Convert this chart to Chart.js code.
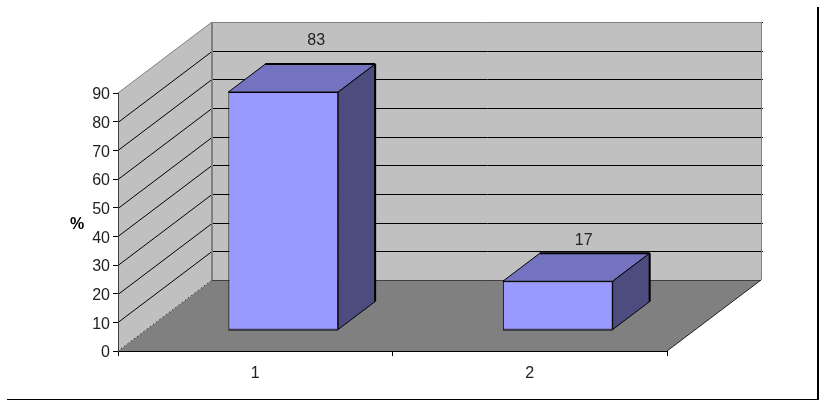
<!DOCTYPE html>
<html>
<head>
<meta charset="utf-8">
<style>
  html, body { margin: 0; padding: 0; background: #fff; }
  canvas { display: block; }
</style>
<script src="https://cdn.jsdelivr.net/npm/chart.js@4"></script>
</head>
<body>
<canvas id="chart" width="827" height="407"></canvas>
<script>
const categories = ['1', '2'];
const percentValues = [83, 17];
const axisMin = 0;
const axisMax = 90;
const axisStep = 10;
const axisTitle = '%';

// 3D look: how far the back wall and the bars sit from the front plane
const wallDepth = { x: 94, y: -71 };
const barShift = { x: 28, y: -21 };
const barDepth = { x: 37, y: -28 };
// value labels are not centred the same way on both bars in the original
const labelNudge = [{ x: 33, y: -47 }, { x: 26, y: -36 }];
const fontName = '"Liberation Sans", Arial, sans-serif';

function poly(ctx, pts, fill, stroke, width){
  ctx.beginPath();
  pts.forEach(function(p, i){ i ? ctx.lineTo(p[0], p[1]) : ctx.moveTo(p[0], p[1]); });
  ctx.closePath();
  if(fill){ ctx.fillStyle = fill; ctx.fill(); }
  if(stroke){ ctx.strokeStyle = stroke; ctx.lineWidth = width || 1; ctx.stroke(); }
}

function line(ctx, x1, y1, x2, y2, color, width){
  ctx.beginPath();
  ctx.moveTo(x1, y1);
  ctx.lineTo(x2, y2);
  ctx.strokeStyle = color;
  ctx.lineWidth = width || 1;
  ctx.stroke();
}

const walls3d = {
  id: 'walls3d',
  beforeDraw: function(chart){
    const ctx = chart.ctx, a = chart.chartArea, yScale = chart.scales.y;
    const dx = wallDepth.x, dy = wallDepth.y;
    const l = a.left, r = a.right, t = a.top, b = a.bottom;
    ctx.save();
    ctx.fillStyle = '#fff';
    ctx.fillRect(0, 0, chart.width, chart.height);
    // side wall, back wall, floor
    poly(ctx, [[l, t], [l + dx, t + dy], [l + dx, b + dy], [l, b]], '#c0c0c0');
    poly(ctx, [[l + dx, t + dy], [r + dx, t + dy], [r + dx, b + dy], [l + dx, b + dy]], '#c0c0c0');
    poly(ctx, [[l, b], [r, b], [r + dx, b + dy], [l + dx, b + dy]], '#808080');
    // gridlines follow the y scale round the two walls
    yScale.ticks.forEach(function(tick){
      if(tick.value === axisMin) return;
      const py = Math.round(yScale.getPixelForValue(tick.value)) + 0.5;
      if(tick.value !== axisMax){
        line(ctx, l, py, l + dx, py + dy, '#000');
        line(ctx, l + dx, py + dy, r + dx + 2, py + dy, '#000');
      }
    });
    // wall edges
    line(ctx, l, t, l + dx, t + dy, '#808080');
    line(ctx, l + dx, t + dy + 0.5, r + dx, t + dy + 0.5, '#808080');
    line(ctx, r + dx, t + dy + 0.5, r + dx + 2, t + dy + 0.5, '#000');
    line(ctx, r + dx + 0.5, t + dy, r + dx + 0.5, b + dy, '#808080');
    line(ctx, l + dx, t + dy, l + dx, b + dy, '#808080', 2);
    line(ctx, l + dx, b + dy + 0.5, r + dx, b + dy + 0.5, '#404040');
    line(ctx, r, b, r + dx, b + dy, '#202020');
    ctx.setLineDash([1, 3]);
    line(ctx, l, b, l + dx, b + dy, '#000');
    ctx.setLineDash([]);
    // outer frame, only the bottom and right edges show
    line(ctx, 7, 399.5, 819, 399.5, '#000', 1);
    line(ctx, 818, 7, 818, 400, '#000', 2);
    ctx.restore();
  },
  beforeDatasetDraw: function(chart, args){
    const ctx = chart.ctx, dx = barDepth.x, dy = barDepth.y;
    ctx.save();
    ctx.translate(barShift.x, barShift.y);
    args.meta.data.forEach(function(bar){
      const p = bar.getProps(['x', 'y', 'base', 'width'], true);
      const x0 = p.x - p.width / 2, x1 = p.x + p.width / 2;
      poly(ctx, [[x0, p.y], [x0 + dx, p.y + dy], [x1 + dx, p.y + dy], [x1, p.y]], '#7373bf', '#000');
      poly(ctx, [[x1, p.y], [x1 + dx, p.y + dy], [x1 + dx, p.base + dy], [x1, p.base]], '#4c4c7f', '#000');
      line(ctx, x0 + dx, p.y + dy, x1 + dx, p.y + dy, '#000', 2);
      line(ctx, x1 + dx, p.y + dy, x1 + dx, p.base + dy, '#000', 2);
    });
  },
  afterDatasetDraw: function(chart, args){
    const ctx = chart.ctx;
    // front face sits one pixel short at the foot because of the inset border
    args.meta.data.forEach(function(bar){
      const p = bar.getProps(['x', 'base', 'width'], true);
      ctx.fillStyle = '#9999ff';
      ctx.fillRect(p.x - p.width / 2 + 1, p.base - 1, p.width - 2, 1);
      line(ctx, p.x - p.width / 2, p.base + 0.5, p.x + p.width / 2, p.base + 0.5, '#000');
    });
    ctx.restore();
    ctx.save();
    ctx.font = '16px ' + fontName;
    ctx.fillStyle = '#222';
    ctx.textAlign = 'center';
    ctx.textBaseline = 'alphabetic';
    args.meta.data.forEach(function(bar, i){
      const p = bar.getProps(['x', 'y'], true);
      ctx.fillText(String(percentValues[i]), p.x + barShift.x + labelNudge[i].x, p.y + barShift.y + labelNudge[i].y);
    });
    // the axis title stays upright, so it is not the scale's rotated one
    ctx.font = 'bold 16px ' + fontName;
    ctx.fillStyle = '#000';
    ctx.fillText(axisTitle, 77, 229);
    ctx.restore();
  }
};

new Chart(document.getElementById('chart'), {
  type: 'bar',
  data: {
    labels: categories,
    datasets: [{
      data: percentValues,
      backgroundColor: '#9999ff',
      borderColor: '#000',
      borderWidth: 1,
      borderSkipped: false,
      barPercentage: 0.4,
      categoryPercentage: 1,
      clip: false
    }]
  },
  options: {
    responsive: false,
    animation: false,
    layout: { padding: { top: 93, right: 160, left: 0, bottom: 0 } },
    plugins: { legend: { display: false }, tooltip: { enabled: false } },
    scales: {
      x: {
        afterFit: function(scale){ scale.height = 56; },
        grid: { drawOnChartArea: false, tickLength: 5, color: '#000' },
        border: { color: '#000' },
        ticks: { color: '#222', padding: 8, maxRotation: 0, font: { family: fontName, size: 16 } }
      },
      y: {
        min: axisMin,
        max: axisMax,
        afterFit: function(scale){ scale.width = 118; },
        grid: { drawOnChartArea: false, tickLength: 5, color: '#000' },
        border: { color: '#404040' },
        ticks: {
          stepSize: axisStep,
          color: '#222',
          padding: 3,
          // empty first line plus a small line height moves the text 2px down
          callback: function(value){ return ['', String(value)]; },
          font: { family: fontName, size: 16, lineHeight: 0.25 }
        }
      }
    }
  },
  plugins: [walls3d]
});
</script>
</body>
</html>
